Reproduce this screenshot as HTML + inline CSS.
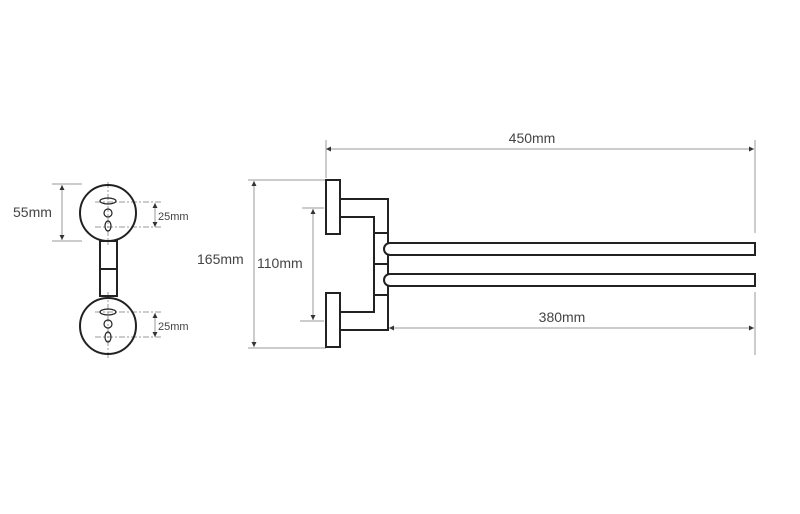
<!DOCTYPE html>
<html><head><style>body{margin:0;background:#fff}svg{display:block}text{font-family:"Liberation Sans",sans-serif;fill:#444}</style></head><body>
<svg width="800" height="514" viewBox="0 0 800 514">
<defs><marker id="a" viewBox="0 0 6 6" refX="6" refY="3" markerWidth="5" markerHeight="5" orient="auto-start-reverse"><path d="M0,0L6,3L0,6z" fill="#333"/></marker></defs>
<g stroke="#999" stroke-width="1" fill="none">
<line x1="326" y1="140" x2="326" y2="178"/>
<line x1="755" y1="140" x2="755" y2="233"/><line x1="755" y1="292" x2="755" y2="355"/>
<line x1="326" y1="149" x2="754" y2="149" marker-start="url(#a)" marker-end="url(#a)"/>
<line x1="389" y1="328" x2="754" y2="328" marker-start="url(#a)" marker-end="url(#a)"/>
<line x1="248" y1="180" x2="326" y2="180"/><line x1="248" y1="348" x2="326" y2="348"/>
<line x1="254" y1="181" x2="254" y2="347" marker-start="url(#a)" marker-end="url(#a)"/>
<line x1="302" y1="208" x2="324" y2="208"/><line x1="300" y1="321" x2="324" y2="321"/>
<line x1="313" y1="209" x2="313" y2="320" marker-start="url(#a)" marker-end="url(#a)"/>
<line x1="52" y1="184" x2="82" y2="184"/><line x1="52" y1="241" x2="82" y2="241"/>
<line x1="62" y1="185" x2="62" y2="240" marker-start="url(#a)" marker-end="url(#a)"/>
<line x1="155" y1="203" x2="155" y2="227" marker-start="url(#a)" marker-end="url(#a)"/>
<line x1="155" y1="313" x2="155" y2="337" marker-start="url(#a)" marker-end="url(#a)"/>
<g stroke-dasharray="6,2,2,2">
<line x1="95" y1="202" x2="162" y2="202"/><line x1="95" y1="227" x2="162" y2="227"/>
<line x1="95" y1="312" x2="162" y2="312"/><line x1="95" y1="337" x2="162" y2="337"/>
<line x1="108" y1="182" x2="108" y2="245"/><line x1="108" y1="292" x2="108" y2="358"/>
</g>
</g>
<g stroke="#222" stroke-width="2" fill="none">
<circle cx="108" cy="213" r="28"/><circle cx="108" cy="326" r="28"/>
<rect x="100" y="241" width="17" height="55"/><line x1="100" y1="269" x2="117" y2="269"/>
<g stroke-width="1.2">
<ellipse cx="108" cy="201" rx="8" ry="3"/><circle cx="108" cy="213" r="4"/><ellipse cx="108" cy="226" rx="3" ry="5"/>
<ellipse cx="108" cy="312" rx="8" ry="3"/><circle cx="108" cy="324" r="4"/><ellipse cx="108" cy="337" rx="3" ry="5"/>
</g>
<rect x="326" y="180" width="14" height="54"/><rect x="326" y="293" width="14" height="54"/>
<path d="M340,199H388V330H340M340,217H374V312H340M374,233H388M374,264H388M374,295H388"/>
<path d="M755,243H390A6,6 0 0 0 390,255H755Z" fill="#fff"/>
<path d="M755,274H390A6,6 0 0 0 390,286H755Z" fill="#fff"/>
</g>
<text x="532" y="143" font-size="14" text-anchor="middle">450mm</text>
<text x="562" y="322" font-size="14" text-anchor="middle">380mm</text>
<text x="197" y="264" font-size="14">165mm</text>
<text x="257" y="268" font-size="14">110mm</text>
<text x="13" y="217" font-size="14">55mm</text>
<text x="158" y="220" font-size="11">25mm</text>
<text x="158" y="330" font-size="11">25mm</text>
</svg>
</body></html>
